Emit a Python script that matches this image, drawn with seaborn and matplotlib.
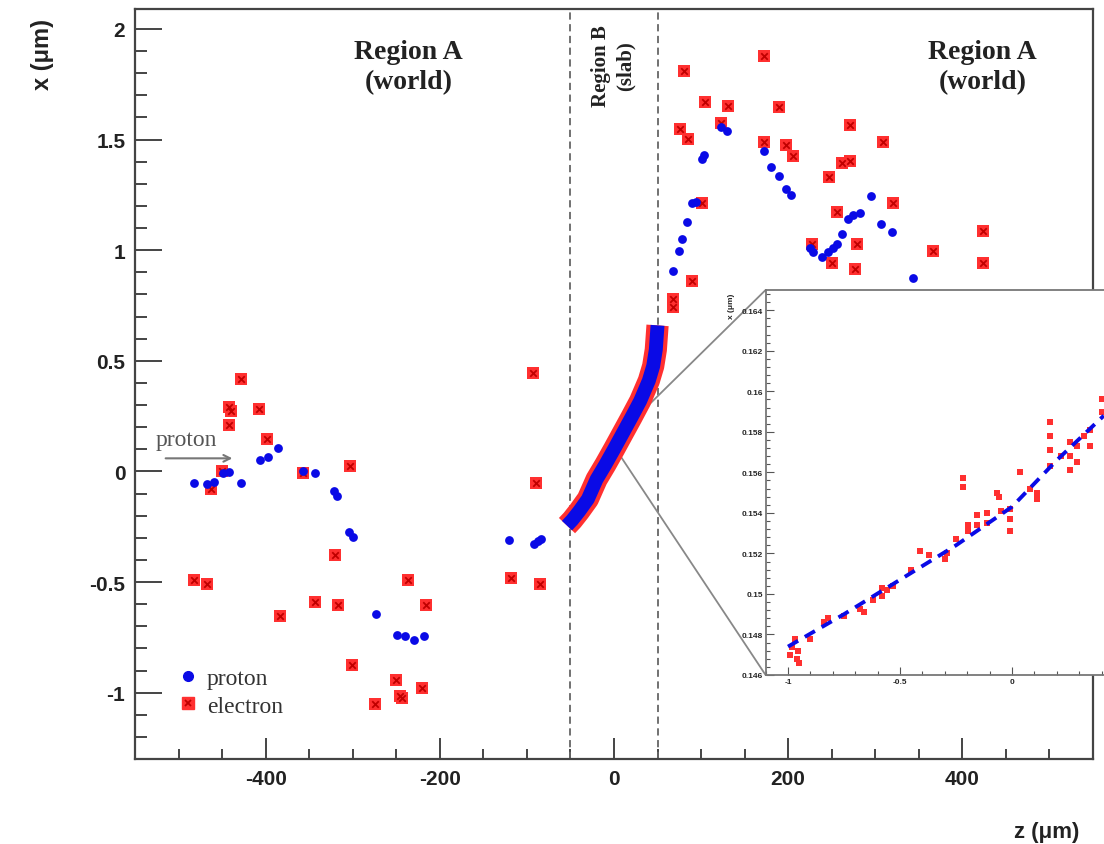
import matplotlib
matplotlib.use("Agg")
import matplotlib.pyplot as plt
import seaborn as sns
from matplotlib.lines import Line2D
from matplotlib.legend_handler import HandlerTuple
from matplotlib.patches import ConnectionPatch
from matplotlib.ticker import MultipleLocator, FuncFormatter, FixedLocator

# ---------------- data ----------------
proton_z = [-482, -467, -459, -449, -442, -428, -407, -397, -386, -357, -343, -322, -318,
            -304, -300, -273, -249, -240, -230, -218, -120, -92, -87, -84,
            68, 75, 78, 83.5, 90, 94, 101.5, 103.5, 122.5, 130, 172, 180, 190, 197, 203,
            225, 229, 238.5, 246, 252, 256, 261.5, 269, 274, 282.5, 295, 307, 319.5, 343]
proton_x = [-0.051, -0.059, -0.048, -0.009, -0.003, -0.054, 0.050, 0.066, 0.105, 0.000, -0.006, -0.089, -0.112,
            -0.275, -0.296, -0.643, -0.740, -0.745, -0.763, -0.745, -0.311, -0.327, -0.315, -0.305,
            0.904, 0.994, 1.050, 1.128, 1.211, 1.216, 1.412, 1.430, 1.555, 1.540, 1.449, 1.374, 1.333, 1.276, 1.250,
            1.008, 0.990, 0.967, 0.990, 1.008, 1.027, 1.072, 1.140, 1.158, 1.167, 1.246, 1.118, 1.080, 0.876]

electron_z = [-482, -467, -463, -450, -442.5, -442, -440, -428.5, -408, -398, -383, -357, -343,
              -320.5, -317, -303, -301, -274, -250, -245.5, -243, -236, -221, -216, -118.5, -92.5, -90, -85.5,
              68, 68, 76, 80, 84.5, 90, 101.5, 104, 122.5, 130.5, 172, 172, 190, 198, 205,
              227, 247, 250, 256, 261.5, 271, 271, 277, 279, 308.5, 320, 366, 424, 424]
electron_x = [-0.489, -0.511, -0.081, 0.001, 0.208, 0.290, 0.272, 0.419, 0.284, 0.148, -0.655, -0.009, -0.591,
              -0.376, -0.602, 0.024, -0.873, -1.050, -0.941, -1.017, -1.024, -0.489, -0.979, -0.602, -0.484, 0.443, -0.051, -0.511,
              0.780, 0.745, 1.548, 1.811, 1.502, 0.861, 1.213, 1.671, 1.575, 1.653, 1.879, 1.487, 1.646, 1.475, 1.427,
              1.027, 1.329, 0.944, 1.173, 1.394, 1.404, 1.566, 0.914, 1.027, 1.490, 1.213, 0.997, 1.085, 0.941]

# dense track inside the slab (region B)
slab_z = [-54, -48, -40, -30, -20, -10, 0, 10, 20, 30, 40, 45, 48, 50]
slab_x = [-0.245, -0.22, -0.18, -0.125, -0.036, 0.03, 0.10, 0.172, 0.244, 0.318, 0.41, 0.476, 0.55, 0.66]

# inset (zoom of the slab track)
inset_proton_z = [-1.0, -0.75, -0.5, -0.25, 0.0, 0.2, 0.41]
inset_proton_x = [0.1474, 0.1490, 0.1507, 0.1524, 0.1543, 0.1566, 0.1588]

inset_electron_z = [-0.99, -0.98, -0.97, -0.96, -0.955, -0.95, -0.90, -0.84, -0.82, -0.75, -0.68, -0.66,
                    -0.62, -0.58, -0.58, -0.56, -0.53, -0.45, -0.41, -0.37, -0.30, -0.29, -0.25,
                    -0.217, -0.217, -0.195, -0.195, -0.158, -0.158, -0.113, -0.113, -0.068, -0.06, -0.05,
                    -0.009, -0.009, -0.009, 0.036, 0.08, 0.11, 0.11, 0.17, 0.17, 0.17, 0.17, 0.22,
                    0.26, 0.26, 0.26, 0.29, 0.29, 0.32, 0.348, 0.348, 0.40, 0.40]
inset_electron_x = [0.1470, 0.1474, 0.1478, 0.1468, 0.1472, 0.1466, 0.1478, 0.1486, 0.1488, 0.1489, 0.14925, 0.1491,
                    0.1497, 0.1503, 0.1499, 0.1502, 0.1504, 0.1512, 0.1521, 0.1519, 0.1517, 0.1520, 0.1527,
                    0.1557, 0.1553, 0.1534, 0.1531, 0.1539, 0.1534, 0.1540, 0.1535, 0.1550, 0.1548, 0.1541,
                    0.1542, 0.1537, 0.1531, 0.1560, 0.1552, 0.1550, 0.1547, 0.1585, 0.1578, 0.1571, 0.1563, 0.1568,
                    0.1575, 0.1568, 0.1561, 0.1573, 0.1565, 0.1578, 0.1581, 0.1573, 0.1596, 0.1590]

x_ticks = [-400, -200, 0, 200, 400]
y_ticks = [-1, -0.5, 0, 0.5, 1, 1.5, 2]
inset_x_ticks = [-1, -0.5, 0]
inset_y_ticks = [0.146, 0.148, 0.150, 0.152, 0.154, 0.156, 0.158, 0.160, 0.162, 0.164]
slab_bounds = [-50, 50]
zoom_from = [(13.7, 0.199), (2.3, 0.0995)]

RED = "#ff3030"
DARKRED = "#c00000"
BLUE = "#0a0ae6"
SPINE = "#444444"

sns.set_theme(style="white")
plt.rcParams["font.family"] = ["Liberation Sans", "DejaVu Sans"]

fig = plt.figure(figsize=(11.04, 8.45), dpi=100)
W, H = 1104, 845
ax = fig.add_axes([135 / W, 85 / H, (1093 - 135) / W, 750 / H])

# slab track
sns.lineplot(x=slab_z, y=slab_x, ax=ax, color=RED, linewidth=16, solid_capstyle="butt", zorder=3)
sns.lineplot(x=slab_z, y=slab_x, ax=ax, color=BLUE, linewidth=10, solid_capstyle="butt", zorder=4)

# electrons
sns.scatterplot(x=electron_z, y=electron_x, ax=ax, marker="s", s=78, color=RED, linewidth=0, zorder=3, legend=False)
sns.scatterplot(x=electron_z, y=electron_x, ax=ax, marker="x", s=22, color=DARKRED, linewidth=1.3, zorder=3, legend=False)
# protons
sns.scatterplot(x=proton_z, y=proton_x, ax=ax, marker="o", s=40, color=BLUE, linewidth=0, zorder=4, legend=False)

for b in slab_bounds:
    ax.axvline(b, color="#666666", linestyle=(0, (4, 2.5)), linewidth=1.3, zorder=2)

ax.set_xlim(-550, 550)
ax.set_ylim(-1.3, 2.09)
ax.xaxis.set_major_locator(FixedLocator(x_ticks))
ax.xaxis.set_minor_locator(MultipleLocator(50))
ax.yaxis.set_major_locator(FixedLocator(y_ticks))
ax.yaxis.set_minor_locator(MultipleLocator(0.1))
fmt = FuncFormatter(lambda v, p: "%g" % v)
ax.xaxis.set_major_formatter(fmt)
ax.yaxis.set_major_formatter(fmt)
ax.tick_params(axis="both", which="both", direction="in", bottom=True, left=True, top=False, right=False,
               color=SPINE, width=1.4)
ax.tick_params(axis="x", which="major", length=15, pad=7)
ax.tick_params(axis="x", which="minor", length=7)
ax.tick_params(axis="y", which="major", length=19.5, pad=7)
ax.tick_params(axis="y", which="minor", length=8.5)
for lab in ax.get_xticklabels() + ax.get_yticklabels():
    lab.set_fontweight("bold")
    lab.set_fontsize(15)
    lab.set_color("#222222")
for s in ax.spines.values():
    s.set_color(SPINE)
    s.set_linewidth(1.6)

ax.set_xlabel("z (μm)", fontsize=16, fontweight="bold", color="#222222")
ax.xaxis.set_label_coords(0.952, -0.083)
ax.set_ylabel("x (μm)", fontsize=17, fontweight="bold", color="#222222")
ax.yaxis.set_label_coords(-0.085, 0.94)

serif = ["Liberation Serif", "DejaVu Serif"]
ax.text(-235.6, 1.83, "Region A\n(world)", family=serif, fontweight="bold", fontsize=20,
        ha="center", va="center", linespacing=1.25, color="#222222")
ax.text(423, 1.83, "Region A\n(world)", family=serif, fontweight="bold", fontsize=20,
        ha="center", va="center", linespacing=1.25, color="#222222")
ax.text(-1, 1.837, "Region B\n(slab)", family=serif, fontweight="bold", fontsize=15, rotation=90,
        ha="center", va="center", linespacing=1.3, color="#222222")

# incoming proton arrow
ax.annotate("", xy=(-435, 0.059), xytext=(-518, 0.059),
            arrowprops=dict(arrowstyle="->", color="#777777", lw=1.5))
ax.text(-526, 0.145, "proton", family=serif, fontsize=17, color="#555555", ha="left", va="center")

# legend
h_p = Line2D([], [], linestyle="none", marker="o", markersize=7, color=BLUE)
h_e1 = Line2D([], [], linestyle="none", marker="s", markersize=9, color=RED)
h_e2 = Line2D([], [], linestyle="none", marker="x", markersize=5, color=DARKRED, markeredgewidth=1.3)
leg = ax.legend([h_p, (h_e1, h_e2)], ["proton", "electron"],
                handler_map={tuple: HandlerTuple(ndivide=1)},
                loc="center left", bbox_to_anchor=(0.043, 0.089), frameon=False,
                prop={"family": serif, "size": 17}, handlelength=1.0, handletextpad=0.3,
                labelspacing=0.25, borderpad=0, borderaxespad=0)
for t in leg.get_texts():
    t.set_color("#333333")

# ---------------- inset ----------------
axin = fig.add_axes([765.6 / W, 169 / H, 358.4 / W, 385 / H])
axin.set_facecolor("white")
sns.lineplot(x=inset_proton_z, y=inset_proton_x, ax=axin, color=BLUE, linewidth=2.8,
             linestyle=(0, (3, 2)), zorder=3)
sns.scatterplot(x=inset_electron_z, y=inset_electron_x, ax=axin, marker="s", s=16, color=RED,
                linewidth=0, zorder=2, legend=False)
axin.set_xlim(-1.1, 0.5)
axin.set_ylim(0.146, 0.165)
axin.xaxis.set_major_locator(FixedLocator(inset_x_ticks))
axin.xaxis.set_minor_locator(MultipleLocator(0.1))
axin.yaxis.set_major_locator(FixedLocator(inset_y_ticks))
axin.yaxis.set_minor_locator(MultipleLocator(0.0004))
axin.xaxis.set_major_formatter(fmt)
axin.yaxis.set_major_formatter(fmt)
axin.tick_params(axis="both", which="both", direction="in", bottom=True, left=True, top=False, right=False,
                 color="#555555", width=0.8, labelsize=6, pad=2)
axin.tick_params(axis="both", which="major", length=6)
axin.tick_params(axis="both", which="minor", length=3)
for lab in axin.get_xticklabels() + axin.get_yticklabels():
    lab.set_fontweight("bold")
for s in axin.spines.values():
    s.set_color("#777777")
    s.set_linewidth(1.3)
axin.set_ylabel("x (μm)", fontsize=6, fontweight="bold")
axin.yaxis.set_label_coords(-0.085, 0.96)

for (zA, xA), yB in zip(zoom_from, [1, 0]):
    cp = ConnectionPatch(xyA=(zA, xA), coordsA=ax.transData, xyB=(0, yB), coordsB=axin.transAxes,
                         color="#888888", linewidth=1.3, zorder=2)
    ax.add_artist(cp)

fig.savefig("out.png", dpi=100, facecolor="white")
